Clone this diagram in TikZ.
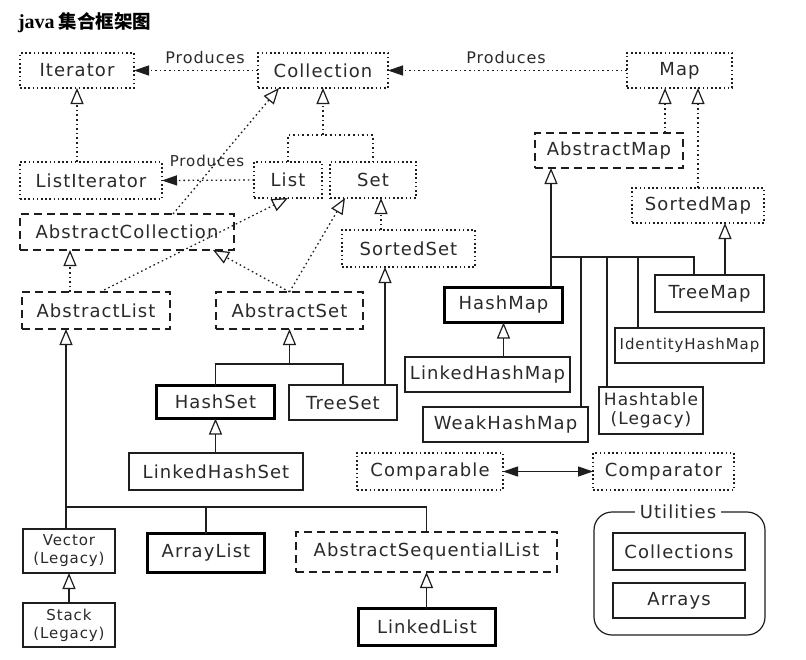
\documentclass[tikz,border=0pt]{standalone}
\usepackage{fontspec}
\setmainfont{DejaVu Sans}
\newfontfamily\lbl[LetterSpace=6]{DejaVu Sans}
\newfontfamily\cjk{Noto Sans CJK SC}
\newfontfamily\ttlfont{Liberation Serif}
\usetikzlibrary{arrows.meta,calc}
\definecolor{txt}{HTML}{2A2A2A}
\definecolor{ln}{HTML}{1E1E1E}
\begin{document}
\begin{tikzpicture}[x=1pt,y=-1pt,
  every node/.style={inner sep=0pt, outer sep=0pt, text=txt, font=\lbl\fontsize{18}{21}\selectfont},
  iface/.style={draw=ln, line width=1.3pt, dash pattern=on 1.6pt off 2.6pt},
  abst/.style={draw=ln, line width=1.3pt, dash pattern=on 8pt off 5pt},
  cls/.style={draw=ln, line width=1.2pt},
  thickbox/.style={draw=black, line width=3.6pt},
  dotline/.style={draw=ln, line width=1.3pt, dash pattern=on 1.6pt off 3pt},
  solidline/.style={draw=ln, line width=1.2pt},
  inh/.style={-{Triangle[open,length=16pt,width=13pt,line width=1.2pt]}},
  prod/.style={-{Triangle[length=15pt,width=10pt]}},
  both/.style={{Triangle[length=15pt,width=10pt]}-{Triangle[length=15pt,width=10pt]}},
  small/.style={font=\lbl\fontsize{15}{18}\selectfont, align=center},
  prodlbl/.style={font=\lbl\fontsize{16}{18}\selectfont}
]
\fill[white] (0,0) rectangle (806,659);
\useasboundingbox (0,0) rectangle (806,659);

% title
\node[anchor=base west, text=black] (title) at (18,28) {{\ttlfont\bfseries\fontsize{20}{22}\selectfont java}\hspace{4pt}{\cjk\bfseries\fontsize{18.5}{20}\selectfont 集合框架图}};

% interfaces and abstract classes
\node[iface, minimum width=114, minimum height=35] (iter) at (77,70.5) {Iterator};
\node[iface, minimum width=130, minimum height=35] (coll) at (323,70.5) {Collection};
\node[iface, minimum width=105, minimum height=35] (map) at (679.5,70.5) {Map};
\node[iface, minimum width=142, minimum height=37] (listit) at (91,180.5) {ListIterator};
\node[iface, minimum width=68, minimum height=36] (list) at (288,180) {List};
\node[iface, minimum width=86, minimum height=36] (set) at (373,180) {Set};
\node[abst, minimum width=214, minimum height=36] (abscoll) at (127,232) {AbstractCollection};
\node[iface, minimum width=133, minimum height=37] (sset) at (408.5,248.5) {SortedSet};
\node[abst, minimum width=148, minimum height=37] (abslist) at (96,310.5) {AbstractList};
\node[abst, minimum width=147, minimum height=37] (absset) at (289.5,310.5) {AbstractSet};
\node[abst, minimum width=148, minimum height=35] (absmap) at (609,150.5) {AbstractMap};
\node[iface, minimum width=132, minimum height=35] (smap) at (698,205.5) {SortedMap};

% classes
\node[thickbox, minimum width=118, minimum height=33] (hashset) at (215.5,402) {HashSet};
\node[cls, minimum width=108, minimum height=35] (treeset) at (343,402.5) {TreeSet};
\node[cls, minimum width=174, minimum height=37] (lhset) at (216,471.5) {LinkedHashSet};
\node[thickbox, minimum width=118, minimum height=35] (hashmap) at (503.5,305) {HashMap};
\node[cls, minimum width=165, minimum height=35] (lhmap) at (487.5,374.5) {LinkedHashMap};
\node[cls, minimum width=165, minimum height=35] (weak) at (505.5,424.5) {WeakHashMap};
\node[cls, align=center, font=\lbl\fontsize{17}{19}\selectfont, minimum width=104, minimum height=47] (htable) at (651,410.5) {Hashtable\\(Legacy)};
\node[cls, font=\lbl\fontsize{15}{18}\selectfont, minimum width=149, minimum height=35] (idmap) at (689.5,345.5) {IdentityHashMap};
\node[cls, minimum width=109, minimum height=37] (treemap) at (709.5,293.5) {TreeMap};
\node[iface, minimum width=146, minimum height=37] (cmpble) at (430,471.5) {Comparable};
\node[iface, minimum width=141, minimum height=37] (cmptor) at (663.5,471.5) {Comparator};
\node[cls, small, minimum width=92, minimum height=44] (vector) at (69,551) {Vector\\(Legacy)};
\node[thickbox, minimum width=117, minimum height=39] (alist) at (206,553) {ArrayList};
\node[abst, minimum width=261, minimum height=40] (asl) at (426.5,552) {AbstractSequentialList};
\node[cls, small, minimum width=92, minimum height=44] (stack) at (69,625) {Stack\\(Legacy)};
\node[thickbox, minimum width=137, minimum height=37] (llist) at (427,627) {LinkedList};

% utilities
\node[draw=ln, line width=1.2pt, rounded corners=18pt, minimum width=171, minimum height=123] (utilbox) at (679.5,573.5) {};
\node[fill=white, inner xsep=5pt, inner ysep=1pt] (utillbl) at (678,512) {Utilities};
\node[cls, minimum width=132, minimum height=37] (colls) at (679,551.5) {Collections};
\node[cls, minimum width=132, minimum height=35] (arrays) at (679,600.5) {Arrays};

% Produces
\node[prodlbl] (p1) at (205,58) {Produces};
\node[prodlbl] (p2) at (506,58) {Produces};
\node[font=\lbl\fontsize{15}{18}\selectfont] (p3) at (207,161) {Produces};
\draw[dotline, prod] (coll.west) -- (iter.east);
\draw[dotline, prod] (map.west) -- (coll.east);
\draw[dotline, prod] (list.west) -- (listit.east);

% interface hierarchy
\draw[dotline, inh] (iter.south |- listit.north) -- (iter.south);
\coordinate (jc) at (323,135);
\draw[dotline] (list.north) |- (jc) -| (set.north);
\draw[dotline, inh] (jc) -- (coll.south);
\draw[dotline, inh] ([xshift=46pt]abscoll.north) -- ([xshift=-44pt]coll.south);
\draw[dotline, inh] ([xshift=-26pt]abslist.north) -- ([xshift=-57pt]abscoll.south);
\draw[dotline, inh] ([xshift=4pt]abslist.north) -- (list.south);
\draw[dotline, inh] (absset.north) -- ([xshift=-21pt]abscoll.south east);
\draw[dotline, inh] (absset.north) -- ([xshift=-28pt]set.south);
\draw[dotline, inh] ([xshift=-27.5pt]sset.north) -- ([xshift=8pt]set.south);
\draw[solidline, inh] ([xshift=42pt]treeset.north) -- ([xshift=-23.5pt]sset.south);

% set classes
\coordinate (js) at (289.5,364);
\draw[solidline] (hashset.north) |- (js) -| (treeset.north);
\draw[solidline, inh] (js) -- (absset.south);
\draw[solidline, inh] (hashset.south |- lhset.north) -- (hashset.south);

% map hierarchy
\draw[dotline, inh] ([xshift=56pt]absmap.north) -- ([xshift=-14.5pt]map.south);
\draw[dotline, inh] (smap.north) -- ([xshift=18.5pt]map.south);
\coordinate (jm) at (551,257);
\coordinate (jw) at (581,257);
\coordinate (jh) at (607,257);
\coordinate (ji) at (638,257);
\draw[solidline, inh] (jm) -- ([xshift=-58pt]absmap.south);
\draw[solidline] (jm |- hashmap.north) -- (jm) -| ([xshift=-15.5pt]treemap.north);
\draw[solidline] (jw) -- (jw |- weak.north);
\draw[solidline] (jh) -- (jh |- htable.north);
\draw[solidline] (ji) -- (ji |- idmap.north);
\draw[solidline, inh] ([xshift=15.5pt]treemap.north) -- ([xshift=27pt]smap.south);
\draw[solidline, inh] (hashmap.south |- lhmap.north) -- (hashmap.south);

% comparable / comparator
\draw[solidline, both] (cmpble.east) -- (cmptor.west);

% list classes
\coordinate (jl) at (66,507);
\draw[solidline, inh] (jl |- vector.north) -- (jl |- abslist.south);
\draw[solidline] (jl) -| (alist.north);
\draw[solidline] (jl) -| (asl.north);
\draw[solidline, inh] (vector.south |- stack.north) -- (vector.south);
\draw[solidline, inh] (asl.south |- llist.north) -- (asl.south);
\end{tikzpicture}
\end{document}
